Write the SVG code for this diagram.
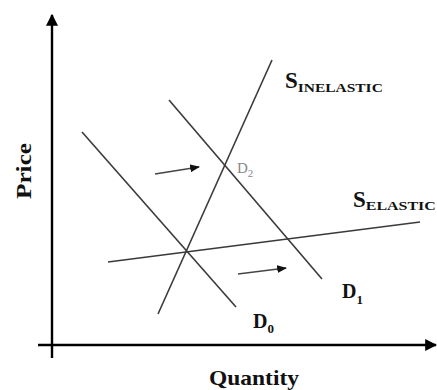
<svg xmlns="http://www.w3.org/2000/svg" width="437" height="390" viewBox="0 0 437 390">
<style>
.ax{stroke:#000;stroke-width:2.4;fill:none}
.cv{stroke:#3a3a3a;stroke-width:1.6;fill:none}
.sh{stroke:#444;stroke-width:1.4;fill:none}
.lb{font-family:"Liberation Serif",serif;font-weight:bold;fill:#111}
.d2{font-family:"Liberation Serif",serif;fill:#888}
</style>
<defs>
<marker id="ah" viewBox="0 0 10 10" refX="9" refY="5" markerWidth="5" markerHeight="5" orient="auto" markerUnits="strokeWidth"><path d="M0,0 L10,5 L0,10 z" fill="#000"/></marker>
<marker id="sh" viewBox="0 0 10 10" refX="9" refY="5" markerWidth="7" markerHeight="7" orient="auto" markerUnits="strokeWidth"><path d="M0,1 L10,5 L0,9 z" fill="#111"/></marker>
</defs>
<g id="connectors">
<line id="y-axis" class="ax" x1="52" y1="358" x2="52" y2="15" marker-end="url(#ah)"/>
<line id="x-axis" class="ax" x1="38" y1="345" x2="436" y2="345" marker-end="url(#ah)"/>
<line id="D0" class="cv" x1="82" y1="132" x2="236" y2="307"/>
<line id="D1" class="cv" x1="169" y1="100" x2="322" y2="279"/>
<line id="S-inelastic" class="cv" x1="158" y1="314" x2="272" y2="60"/>
<line id="S-elastic" class="cv" x1="108" y1="262" x2="420" y2="222"/>
<line id="shift-arrow-1" class="sh" x1="155" y1="174" x2="199" y2="167" marker-end="url(#sh)"/>
<line id="shift-arrow-2" class="sh" x1="238" y1="274" x2="286" y2="268" marker-end="url(#sh)"/>
</g>
<g id="label-price"><text class="lb" font-size="21" transform="translate(31,171) rotate(-90)" text-anchor="middle" textLength="56" lengthAdjust="spacingAndGlyphs">Price</text></g>
<g id="label-quantity"><text class="lb" font-size="21" x="209" y="385" textLength="90" lengthAdjust="spacingAndGlyphs">Quantity</text></g>
<g id="label-s-inelastic"><text class="lb" x="285" y="88"><tspan font-size="23">S</tspan><tspan font-size="13" y="92" textLength="85" lengthAdjust="spacingAndGlyphs">INELASTIC</tspan></text></g>
<g id="label-s-elastic"><text class="lb" x="353" y="207"><tspan font-size="23">S</tspan><tspan font-size="13" y="210" textLength="70" lengthAdjust="spacingAndGlyphs">ELASTIC</tspan></text></g>
<g id="label-d2"><text class="d2" x="237" y="173"><tspan font-size="15">D</tspan><tspan font-size="11" y="177">2</tspan></text></g>
<g id="label-d1"><text class="lb" x="342" y="298"><tspan font-size="20">D</tspan><tspan font-size="13" y="304">1</tspan></text></g>
<g id="label-d0"><text class="lb" x="253" y="328"><tspan font-size="20">D</tspan><tspan font-size="13" y="333">0</tspan></text></g>
</svg>
